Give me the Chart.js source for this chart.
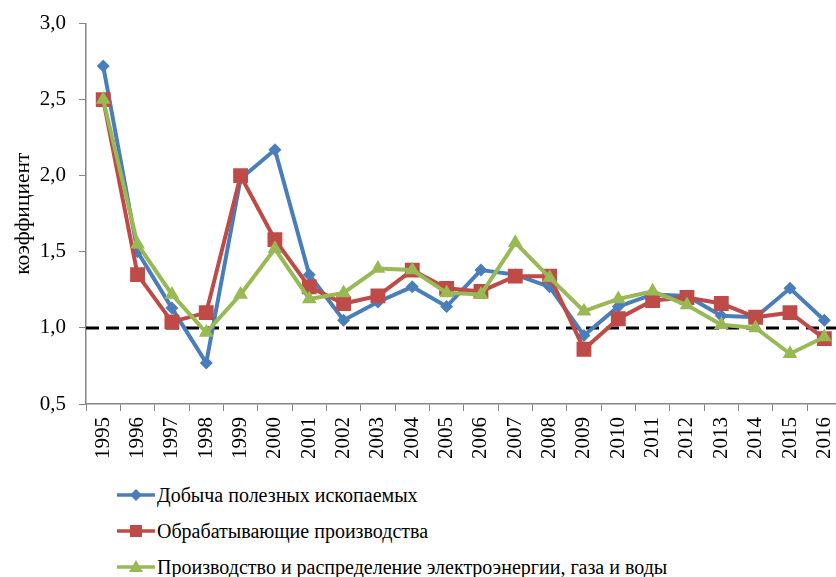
<!DOCTYPE html>
<html>
<head>
<meta charset="utf-8">
<script src="https://cdn.jsdelivr.net/npm/chart.js@4/dist/chart.umd.min.js"></script>
<style>
  html, body { margin: 0; padding: 0; background: #fff; overflow: hidden; }
  #page { width: 836px; height: 577px; position: relative; overflow: hidden; }
  /* the plot in the original runs a few pixels past the right edge of the image */
  #wrap { position: absolute; left: 0; top: 0; width: 852px; height: 465px; }
  #legend { position: absolute; left: 117px; top: 477px; font-family: "Liberation Serif", "Times New Roman", serif; font-size: 20px; color: #000; }
  #legend .item { height: 36px; display: flex; align-items: center; white-space: nowrap; }
  #legend svg { display: block; margin-right: 2px; }
</style>
</head>
<body>
<div id="page">
  <div id="wrap"><canvas id="chart"></canvas></div>
  <div id="legend"></div>
</div>
<script>
/* ─── data ─────────────────────────────────────────── */
const years = ['1995','1996','1997','1998','1999','2000','2001','2002','2003','2004','2005',
               '2006','2007','2008','2009','2010','2011','2012','2013','2014','2015','2016'];

const mining = [2.72, 1.50, 1.13, 0.77, 1.98, 2.17, 1.35, 1.05, 1.17, 1.27, 1.14,
                1.38, 1.35, 1.27, 0.95, 1.14, 1.22, 1.21, 1.08, 1.07, 1.26, 1.05];
const manufacturing = [2.50, 1.35, 1.04, 1.10, 2.00, 1.58, 1.27, 1.16, 1.21, 1.38, 1.26,
                       1.24, 1.34, 1.34, 0.86, 1.06, 1.18, 1.20, 1.16, 1.07, 1.10, 0.93];
const utilities = [2.50, 1.55, 1.22, 0.97, 1.22, 1.52, 1.19, 1.23, 1.39, 1.38, 1.23,
                   1.22, 1.56, 1.33, 1.11, 1.19, 1.24, 1.15, 1.02, 1.00, 0.83, 0.94];

const seriesNames = [
  'Добыча полезных ископаемых',
  'Обрабатывающие производства',
  'Производство и распределение электроэнергии, газа и воды',
];
const refLevel = 1.0;
const yTicks = [0.5, 1.0, 1.5, 2.0, 2.5, 3.0];

const COLORS = ['#4A7EBB', '#BE4B48', '#98B954'];
const SHAPES = ['diamond', 'square', 'triangle'];
const FONT = '"Liberation Serif", "Times New Roman", serif';

// dashed reference line across the whole plot
const refLinePlugin = {
  id: 'refLine',
  beforeDatasetsDraw(chart) {
    const { ctx, chartArea, scales } = chart;
    const y = scales.y.getPixelForValue(refLevel);
    ctx.save();
    ctx.strokeStyle = '#000';
    ctx.lineWidth = 3;
    ctx.setLineDash([13, 7]);
    ctx.beginPath();
    ctx.moveTo(chartArea.left, y);
    ctx.lineTo(chartArea.right, y);
    ctx.stroke();
    ctx.restore();
  },
};

function series(i, data, style, radius, order) {
  return {
    label: seriesNames[i],
    data,
    borderColor: COLORS[i],
    backgroundColor: COLORS[i],
    borderWidth: 4,
    pointStyle: style,
    pointRadius: radius,
    pointHoverRadius: radius,
    pointBackgroundColor: COLORS[i],
    pointBorderColor: COLORS[i],
    pointBorderWidth: 0,
    tension: 0,
    order,
  };
}

const chart = new Chart(document.getElementById('chart').getContext('2d'), {
  type: 'line',
  data: {
    labels: years,
    datasets: [
      series(0, mining, 'rectRot', 6.5, 3),
      series(1, manufacturing, 'rect', 10.5, 2),
      series(2, utilities, 'triangle', 8.5, 1),
    ],
  },
  options: {
    responsive: true,
    maintainAspectRatio: false,
    animation: false,
    layout: { padding: { top: 6, right: 0, left: 10, bottom: 0 } },
    plugins: {
      tooltip: { enabled: false },
      legend: { display: false },
    },
    scales: {
      x: {
        offset: true,
        afterFit: axis => { axis.paddingRight = 0; },
        grid: { display: true, drawOnChartArea: false, offset: true, tickLength: 7, color: '#868686', lineWidth: 1 },
        border: { color: '#868686', width: 1.5 },
        ticks: {
          color: '#000',
          font: { family: FONT, size: 21 },
          minRotation: 90,
          maxRotation: 90,
          padding: 6,
          autoSkip: false,
        },
      },
      y: {
        min: yTicks[0],
        max: yTicks[yTicks.length - 1],
        afterBuildTicks: axis => { axis.ticks = yTicks.map(v => ({ value: v })); },
        grid: { display: true, drawOnChartArea: false, tickLength: 7, color: '#868686', lineWidth: 1 },
        border: { color: '#868686', width: 1.5 },
        ticks: {
          color: '#000',
          font: { family: FONT, size: 21, lineHeight: 1 },
          padding: 13,
          callback: v => v.toFixed(1).replace('.', ','),
        },
        title: {
          display: true,
          text: 'коэффициент',
          color: '#000',
          font: { family: FONT, size: 21.5 },
          padding: { top: 0, bottom: -9 },
        },
      },
    },
  },
  plugins: [refLinePlugin],
});

// ─── HTML legend: line with series marker, then the name ───
function glyphSvg(color, shape) {
  let mark;
  if (shape === 'diamond') mark = `<polygon points="19,4 25,10 19,16 13,10" fill="${color}"/>`;
  else if (shape === 'square') mark = `<rect x="13" y="4" width="12" height="12" fill="${color}"/>`;
  else mark = `<polygon points="19,3 26,15 12,15" fill="${color}"/>`;
  return `<svg width="38" height="20" viewBox="0 0 38 20">
      <line x1="0" y1="10" x2="38" y2="10" stroke="${color}" stroke-width="3.5"/>${mark}</svg>`;
}
document.getElementById('legend').innerHTML = chart.data.datasets.map((ds, i) =>
  `<div class="item">${glyphSvg(COLORS[i], SHAPES[i])}<span>${ds.label}</span></div>`).join('');
</script>
</body>
</html>
